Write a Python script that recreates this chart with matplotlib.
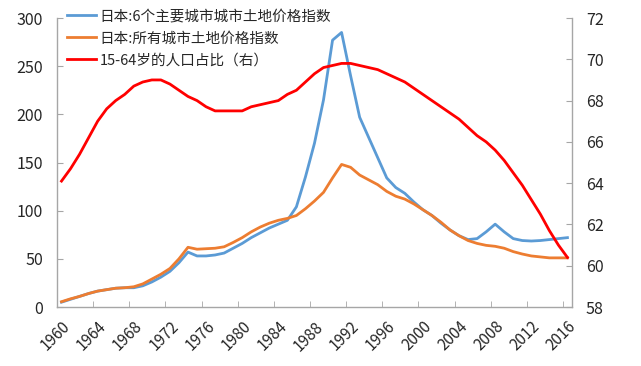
import matplotlib
matplotlib.use("agg")
import matplotlib.pyplot as plt
from matplotlib.ticker import FixedLocator

plt.rcParams['font.family'] = ['Noto Sans CJK SC', 'DejaVu Sans']
plt.rcParams['font.size'] = 10.5

years = list(range(1960, 2017))

# 日本:6个主要城市城市土地价格指数
major6 = [5, 8, 11, 14, 16.5, 18, 19.5, 20, 20, 22,
          26, 31, 37, 46, 57, 53, 53, 54, 56, 61,
          66, 72, 77, 82, 86, 90, 104, 135, 170, 215,
          277, 285, 240, 197, 176, 155, 134, 124, 118, 109,
          101, 95, 87, 80, 74, 70, 71, 78, 86, 78,
          71, 69, 68.5, 69, 70, 71, 72]

# 日本:所有城市土地价格指数
allcity = [5.5, 8.5, 11, 14, 16.5, 18, 19.5, 20, 21, 24,
           29, 34, 40, 50, 62, 60, 60.5, 61, 62.5, 67,
           72, 78, 83, 87, 90, 92, 95, 102, 110, 119,
           134, 148, 145, 137, 132, 127, 120, 115, 112, 107,
           101, 95, 88, 80, 74, 69, 66, 64, 63, 61,
           57.5, 55, 53, 52, 51, 51, 51]

# 15-64岁的人口占比（右）
pop1564 = [64.1, 64.7, 65.4, 66.2, 67.0, 67.6, 68.0, 68.3, 68.7, 68.9,
           69.0, 69.0, 68.8, 68.5, 68.2, 68.0, 67.7, 67.5, 67.5, 67.5,
           67.5, 67.7, 67.8, 67.9, 68.0, 68.3, 68.5, 68.9, 69.3, 69.6,
           69.7, 69.8, 69.8, 69.7, 69.6, 69.5, 69.3, 69.1, 68.9, 68.6,
           68.3, 68.0, 67.7, 67.4, 67.1, 66.7, 66.3, 66.0, 65.6, 65.1,
           64.5, 63.9, 63.2, 62.5, 61.7, 61.0, 60.4]

label_years = list(range(1960, 2017, 4))

grey = '#a6a6a6'
txt = '#262626'

fig = plt.figure(figsize=(6.41, 3.66), dpi=100)
ax = fig.add_axes([0.0889, 0.1612, 0.8034, 0.7896])
ax2 = ax.twinx()

l1, = ax.plot(years, major6, color='#5b9bd5', lw=2, label='日本:6个主要城市城市土地价格指数')
l2, = ax.plot(years, allcity, color='#ed7d31', lw=2, label='日本:所有城市土地价格指数')
l3, = ax2.plot(years, pop1564, color='#ff0000', lw=2, label='15-64岁的人口占比（右）')

ax.set_xlim(1959.5, 2016.5)
ax.set_ylim(0, 300)
ax.set_yticks(range(0, 301, 50))
ax2.set_ylim(58, 72)
ax2.set_yticks(range(58, 73, 2))

ax.set_xticks(label_years)
ax.set_xticklabels([str(y) for y in label_years], rotation=45, ha='right',
                   rotation_mode='anchor', color=txt, fontsize=11)
ax.xaxis.set_minor_locator(FixedLocator([y + 3.5 for y in label_years[:-1]]))
ax.tick_params(axis='x', which='major', length=0, pad=8)
ax.tick_params(axis='x', which='minor', direction='in', length=4, color=grey)
ax.tick_params(axis='y', direction='in', length=4, color=grey, pad=10,
               labelcolor=txt, labelsize=11.5)
ax2.tick_params(axis='y', direction='in', length=4, color=grey, pad=10,
                labelcolor=txt, labelsize=11.5)

for a in (ax, ax2):
    a.spines['top'].set_visible(False)
    for s in ('left', 'right', 'bottom'):
        a.spines[s].set_color(grey)
        a.spines[s].set_linewidth(1)
ax.spines['right'].set_visible(False)
ax2.spines['left'].set_visible(False)
ax2.spines['bottom'].set_visible(False)

ax2.legend(handles=[l1, l2, l3], loc='upper left', bbox_to_anchor=(0.0, 1.065),
           frameon=False, handlelength=2.0, handletextpad=0.2, labelspacing=0.55,
           labelcolor=txt, borderaxespad=0.3)

plt.savefig('out.png', dpi=100)
